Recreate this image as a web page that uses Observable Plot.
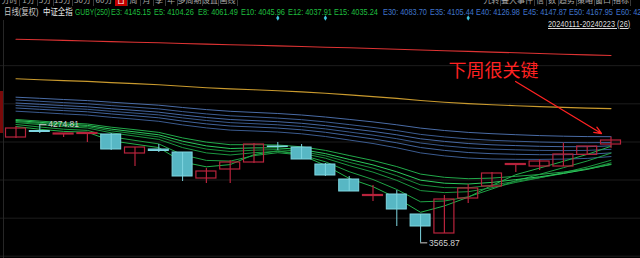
<!DOCTYPE html>
<html><head><meta charset="utf-8">
<script src="https://cdn.jsdelivr.net/npm/d3@7"></script>
<script src="https://cdn.jsdelivr.net/npm/@observablehq/plot@0.6"></script>
<style>
html,body{margin:0;padding:0;background:#000;width:640px;height:258px;overflow:hidden;}
#wrap{position:relative;width:640px;height:258px;overflow:hidden;}
#chart{position:absolute;left:0;top:0;}
.hd{position:absolute;white-space:nowrap;font-family:"Liberation Sans","Noto Sans CJK SC",sans-serif;font-size:9px;line-height:10px;transform:scaleX(0.82);transform-origin:0 0;}
.tb{position:absolute;top:-5px;height:11px;white-space:nowrap;font-family:"Noto Sans CJK SC",sans-serif;font-size:8px;line-height:10px;color:#a8a8a8;border-right:1px solid #3a3a3a;text-align:center;overflow:hidden;}
</style></head><body><div id="wrap"><div id="chart"></div></div>
<script>
// ---- data (daily, 中证全指) ----
const dates = ["2024-01-11","2024-01-12","2024-01-15","2024-01-16","2024-01-17","2024-01-18","2024-01-19","2024-01-22","2024-01-23","2024-01-24","2024-01-25","2024-01-26","2024-01-29","2024-01-30","2024-01-31","2024-02-01","2024-02-02","2024-02-05","2024-02-06","2024-02-07","2024-02-08","2024-02-19","2024-02-20","2024-02-21","2024-02-22","2024-02-23"];
const open  = [4198,4237,4216,4219,4216,4102,4126,4108,3952,4006,4048,4144,4138,4036,3946,3847,3856,3736,3622,3832,3904,4033,4024,4024,4094,4156];
const close = [4252,4231,4222,4225,4126,4138,4117,3964,3994,4048,4156,4141,4066,3970,3874,3853,3766,3664,3826,3892,3982,4039,4054,4096,4144,4180];
const high  = [4264,4274.81,4222,4225,4222,4138,4156,4108,4012,4060,4162,4168,4156,4042,3964,3910,3880,3736,3850,3916,3988,4039,4064,4164,4144,4200];
const low   = [4192,4222,4198,4168,4120,4024,4108,3934,3922,3922,4042,4120,4066,3964,3874,3814,3664,3565.87,3622,3802,3898,3988,4000,4024,4094,4132];

const e3  = [4264,4247.5,4234.6,4229.8,4178.2,4157.8,4137.4,4051,4022.2,4035.4,4095.4,4118.2,4092.4,4031.2,3952.6,3902.8,3834.4,3749.2,3787.6,3839.8,3910.6,3974.8,4014.4,4055.2,4096.6,4145.15];
const e5  = [4276,4261,4247.8,4240.6,4202.2,4180.6,4159.6,4094.2,4060.6,4056.4,4089.4,4106.8,4093,4052.2,3992.8,3946,3886,3812.2,3817,3842.2,3889,3938.8,3977.2,4016.8,4057,4104.26];
const e8  = [4288,4275.4,4263.4,4255,4226.2,4206.4,4186.6,4137.4,4105.6,4093,4106.8,4114.6,4103.8,4073.8,4029.4,3990.4,3940.6,3879.4,3867.4,3872.8,3896.8,3928.6,3956.2,3987.4,4021,4061.49];
const e10 = [4294,4282.6,4271.8,4263.4,4238.2,4220.2,4201.6,4158.4,4128.4,4114,4121.8,4125.4,4114.6,4088.2,4049.2,4013.8,3968.8,3913.6,3897.4,3896.2,3911.8,3935.2,3956.8,3982,4010.2,4045.96];
const e12 = [4300,4289.2,4279,4270.6,4248.4,4231.6,4214.2,4175.8,4147.6,4132,4135.6,4136.2,4125.4,4101.4,4066.6,4033.6,3992.2,3941.8,3923.8,3919,3928.6,3945.4,3962.2,3982.6,4006.6,4037.91];
const e15 = [4306,4296.4,4286.8,4279,4259.8,4244.8,4228.6,4195.6,4170.4,4154.8,4154.8,4153,4142.2,4120.6,4090,4060,4023.4,3978.4,3959.2,3950.8,3954.4,3965.2,3976,3991,4009.6,4035.24];
const e30 = [4355.8,4348,4339.6,4332.4,4319.2,4307.8,4295.2,4273.6,4255.6,4242.4,4237,4231,4220.2,4204,4183,4162,4136.2,4105.6,4087.6,4075,4069,4067.2,4066.6,4068.4,4072.6,4083.70];
const e35 = [4375,4367.2,4359.4,4352.2,4339.6,4328.2,4316.2,4296.4,4279.6,4267,4261,4254.4,4244.2,4229.2,4209.4,4189.6,4166.2,4138,4120.6,4108,4100.8,4097.2,4094.8,4094.8,4097.2,4105.44];
const e40 = [4390,4382.2,4374.4,4367.2,4355.2,4344.4,4333.6,4315.6,4300,4287.4,4280.8,4274.2,4264,4249.6,4231,4212.4,4190.8,4165,4148.2,4135.6,4128.4,4124.2,4120.6,4119.4,4120.6,4126.98];
const e45 = [4405,4397.2,4389.4,4382.2,4370.8,4360.6,4349.8,4333,4318,4306,4299.4,4292.8,4283.2,4269.4,4252,4234.6,4214.2,4190.2,4174.6,4162,4154.2,4149.4,4145.2,4142.8,4142.8,4147.87];
const e50 = [4423,4415.2,4407.4,4400.2,4389.4,4379.8,4369.6,4353.4,4339.6,4328.2,4321.6,4314.4,4304.8,4291.6,4275.4,4258.6,4239.4,4216.6,4201.6,4189.6,4181.2,4175.8,4171,4168,4166.8,4167.95];
const e60 = [4439.8,4433.2,4426,4419.4,4409.8,4400.8,4391.8,4378,4365.4,4355.2,4348.6,4342,4333,4321,4306.6,4291.6,4274.2,4254.4,4240,4228.6,4220.8,4214.8,4209.4,4205.8,4203.4,4202.8];
const eOrange = [4550.2,4544.8,4539.4,4534.6,4527.4,4521.4,4514.2,4505.2,4496.8,4489.6,4484.2,4478.2,4471.6,4463.2,4453.6,4443.4,4432.6,4420,4409.8,4401.4,4394.2,4388.8,4383.4,4378.6,4374.4,4371.4];
const eRed = [4787.8,4784.2,4780.6,4777,4773.4,4769.8,4766.2,4762,4758.4,4754.8,4751.2,4747.6,4744,4739.8,4736.2,4732,4727.8,4723,4718.8,4714.6,4710.4,4706.2,4702,4697.8,4693.6,4690];

const greenLabels = ["E3","E5","E8","E10","E12","E15"];
const blueLabels = ["E30","E35","E40","E45","E50","E60"];
const headerValues = [4145.15,4104.26,4061.49,4045.96,4037.91,4035.24,4083.70,4105.44,4126.98,4147.87,4167.95,4205.00];
const gridLines = [4629,4400,4171,3943,3714,3486];
const markerDays = [11,13,19];
const note = [{i:20.06, v:4594, text:"下周很关键"}];
const noteArrow = [{i1:20.99, v1:4534, i2:24.6, v2:4222}];

// ---- build ----
const candles = dates.map((date,i)=>({i, date, open:open[i], close:close[i], high:high[i], low:low[i]}));
const up = candles.filter(d=>d.close>=d.open);
const down = candles.filter(d=>d.close<d.open);
const UPC = "#b8233c", DNF = "#57b7c4", DNS = "#7ed6e0";
const greens = [[e3,"#23b14b"],[e5,"#1fa245"],[e8,"#1c9740"],[e10,"#1a8d3b"],[e12,"#2cc85c"],[e15,"#22a94a"]];
const blues = [[e30,"#3b5b8f"],[e35,"#41639a"],[e40,"#3a5a8c"],[e45,"#4668a2"],[e50,"#3d5d92"],[e60,"#4a6ca6"]];
const hiI = d3.maxIndex(high), loI = d3.minIndex(low);
const extremes = [{i:hiI, v:high[hiI]},{i:loI, v:low[loI]}];
const lineMarks = [];
lineMarks.push(Plot.line(eRed,{x:(d,i)=>i,y:d=>d,stroke:"#dd3333",strokeWidth:1.1}));
lineMarks.push(Plot.line(eOrange,{x:(d,i)=>i,y:d=>d,stroke:"#c99a2e",strokeWidth:1.1}));
for (const [s,c] of blues) lineMarks.push(Plot.line(s,{x:(d,i)=>i,y:d=>d,stroke:c,strokeWidth:1}));
for (const [s,c] of greens) lineMarks.push(Plot.line(s,{x:(d,i)=>i,y:d=>d,stroke:c,strokeWidth:1}));

const chart = Plot.plot({
  width:640, height:258, margin:0,
  style:{background:"#000"},
  x:{type:"linear", domain:[0,25], range:[15.5,610.5], axis:null},
  y:{domain:[3520,5020], range:[250,0], axis:null},
  marks:[
    Plot.ruleY(gridLines,{stroke:"#1d1d1d",strokeWidth:1}),
    ...lineMarks,
    Plot.rect(down,{x1:d=>d.i-0.42,x2:d=>d.i+0.42,y1:"open",y2:"close",fill:DNF,stroke:DNS,strokeWidth:1}),
    Plot.ruleX(down,{x:"i",y1:"low",y2:"high",stroke:DNS,strokeWidth:1}),
    Plot.rect(up,{x1:d=>d.i-0.42,x2:d=>d.i+0.42,y1:"open",y2:"close",fill:"none",stroke:UPC,strokeWidth:1.2}),
    Plot.ruleX(up,{x:"i",y1:"low",y2:"high",stroke:UPC,strokeWidth:1.2}),
    Plot.ruleY(extremes,{y:"v",x1:"i",x2:d=>d.i+0.3,stroke:"#cfcfcf",strokeWidth:1}),
    Plot.text(extremes,{x:"i",y:"v",text:d=>d.v.toFixed(2),dx:8.5,textAnchor:"start",fill:"#cfcfcf",fontSize:8.5,fontFamily:"Liberation Sans"}),
    Plot.dot(markerDays,{x:d=>d,frameAnchor:"top",dy:17.5,r:1.7,symbol:"diamond",fill:"#3fc6e0"}),
    Plot.arrow(noteArrow,{x1:"i1",y1:"v1",x2:"i2",y2:"v2",stroke:"#ff2222",strokeWidth:1.3,headLength:9,headAngle:45}),
    Plot.text(note,{x:"i",y:"v",text:"text",fill:"#ff2222",fontSize:18,fontFamily:"Noto Sans CJK SC"})
  ]
});
document.getElementById("chart").appendChild(chart);

// ---- header overlays ----
const wrap = document.getElementById("wrap");
function add(cls, text, x, y, color, extra){
  const el = document.createElement("div");
  el.className = cls; el.textContent = text;
  el.style.left = x+"px"; el.style.top = y+"px"; el.style.color = color;
  if (extra) Object.assign(el.style, extra);
  wrap.appendChild(el); return el;
}
// toolbar (cut off at top)
const tbCells = [["分时",0,19],["1分",20,17],["5分",37,16],["15分",53,19],["30分",72,21],["60分",93,22],["日",115,12],["周",127,13],["月",140,13],["季",153,12],["年",165,12],["多周期",177,25],["设置",202,16],["画线",218,19],["九转",483,17],["叠大事件",500,34],["信",534,12],["数",546,12],["趋势",558,18],["策略",576,18],["窗口",594,18],["指标",612,18]];
for (const [t,x,w] of tbCells){
  const el = add("tb", t, x, -5, t==="日" ? "#ffffff" : "#a8a8a8", {width:w+"px"});
  if (t==="日") el.style.background = "#c40000";
}
// line 2
const hdY = 7;
add("hd","日线(复权)",4,hdY,"#c8c8c8");
add("hd","中证全指",43,hdY,"#ececec");
add("hd","GUBY(250)",75,hdY,"#1fbf3f",{transform:"scaleX(0.75)"});
const hx = [111,154.3,197.6,241,287.7,334.3,382.5,429.5,476,522.5,569,615.5];
[...greenLabels,...blueLabels].forEach((lab,k)=>{
  add("hd", lab+": "+headerValues[k].toFixed(2), hx[k], hdY, k<6 ? "#1fbf3f" : "#3f74cc");
});
// date range
const rng = dates[0].replaceAll("-","")+"-"+dates[dates.length-1].replaceAll("-","")+" ("+dates.length+")";
add("hd", rng, 548, 18.5, "#dcdcdc", {textDecoration:"underline"});
// left edge strip
const strip = document.createElement("div");
Object.assign(strip.style,{position:"absolute",left:"0px",top:"91px",width:"3px",height:"42px",background:"#7a0a0a"});
wrap.appendChild(strip);
const edge = document.createElement("div");
Object.assign(edge.style,{position:"absolute",left:"3px",top:"20px",width:"1px",height:"238px",background:"#262626"});
wrap.appendChild(edge);
</script>
</body></html>
